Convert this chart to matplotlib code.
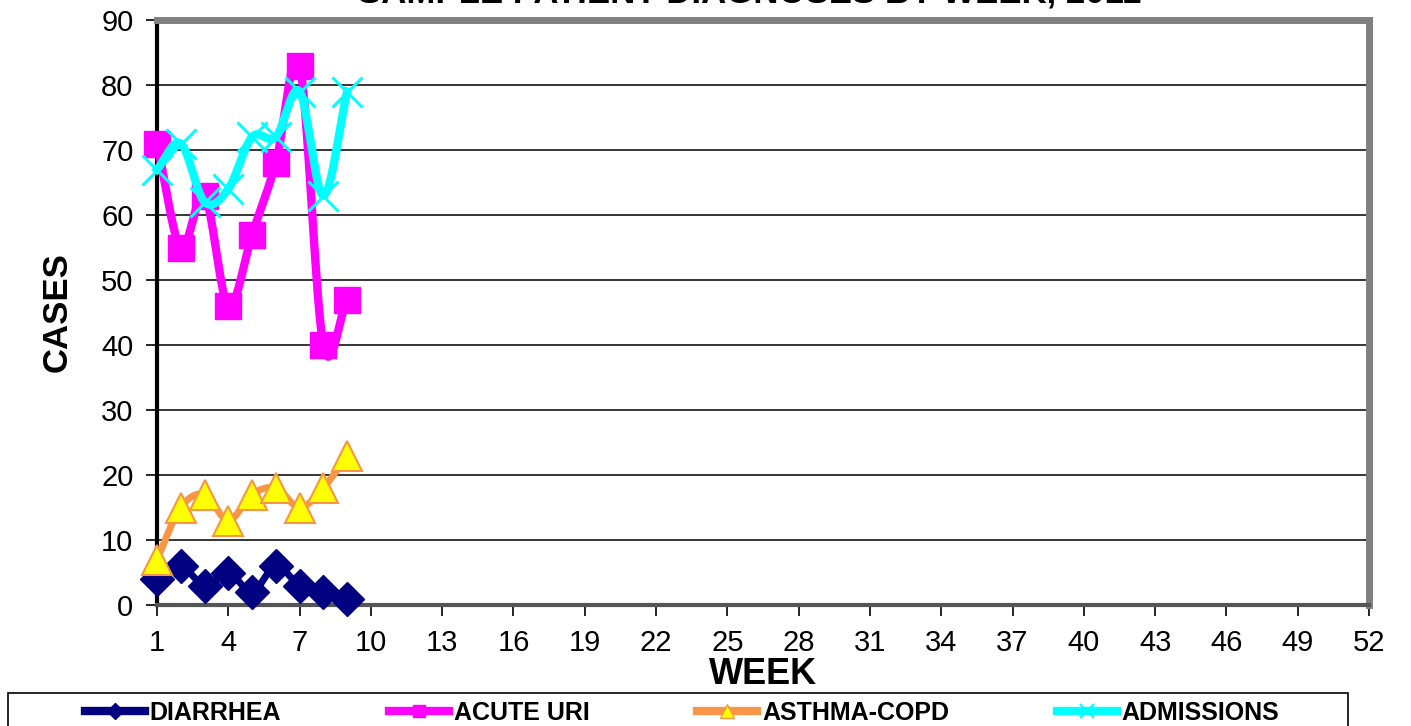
import numpy as np
import matplotlib
matplotlib.use("Agg")
import matplotlib.pyplot as plt
from matplotlib.lines import Line2D
from matplotlib.patches import Rectangle

weeks = [1, 2, 3, 4, 5, 6, 7, 8, 9]
diarrhea = [4, 6, 3, 5, 2, 6, 3, 2, 1]
acute_uri = [71, 55, 63, 46, 57, 68, 83, 40, 47]
asthma_copd = [7, 15, 17, 13, 17, 18, 15, 18, 23]
admissions = [67, 71, 62, 64, 72, 72, 79, 63, 79]
xticks = list(range(1, 53, 3))
yticks = list(range(0, 91, 10))
title = "SAMPLE PATIENT DIAGNOSES BY WEEK, 2011"

plt.rcParams['font.family'] = ['Liberation Sans', 'DejaVu Sans']


def smooth(x, y, n=20):
    x = np.asarray(x, float)
    y = np.asarray(y, float)
    px = np.concatenate([[2 * x[0] - x[1]], x, [2 * x[-1] - x[-2]]])
    py = np.concatenate([[2 * y[0] - y[1]], y, [2 * y[-1] - y[-2]]])
    ox, oy = [], []
    for i in range(1, len(px) - 2):
        t = np.linspace(0, 1, n, endpoint=False)
        for p, out in ((px, ox), (py, oy)):
            p0, p1, p2, p3 = p[i - 1], p[i], p[i + 1], p[i + 2]
            c1 = p1 + (p2 - p0) / 6
            c2 = p2 - (p3 - p1) / 6
            out.extend((1 - t) ** 3 * p1 + 3 * (1 - t) ** 2 * t * c1
                       + 3 * (1 - t) * t ** 2 * c2 + t ** 3 * p2)
    ox.append(x[-1]); oy.append(y[-1])
    return ox, oy


fig = plt.figure(figsize=(14.11, 7.26), dpi=100)
ax = fig.add_axes([157 / 1411, 1 - 605 / 726, (1369 - 157) / 1411, (605 - 20) / 726])

ax.set_xlim(1, 52)
ax.set_ylim(0, 90)
ax.set_yticks(yticks)
ax.set_xticks(xticks)
ax.tick_params(axis='both', labelsize=21, length=8, width=1.2, direction='out', color='black')
ax.tick_params(axis='x', pad=9)
ax.tick_params(axis='y', pad=9)
ax.grid(axis='y', color='black', linewidth=1.1)
ax.set_axisbelow(True)

for s in ['top', 'right']:
    ax.spines[s].set_color('#808080')
    ax.spines[s].set_linewidth(5)
ax.spines['left'].set_color('black')
ax.spines['left'].set_linewidth(3)
ax.spines['bottom'].set_color('#555555')
ax.spines['bottom'].set_linewidth(3)

# Diarrhea
ax.plot(*smooth(weeks, diarrhea), color='#000080', lw=5, zorder=3, clip_on=False)
ax.plot(weeks, diarrhea, ls='none', marker='D', ms=17, color='#000080', zorder=4, clip_on=False)
# Asthma-COPD
ax.plot(*smooth(weeks, asthma_copd), color='#F79646', lw=5, zorder=3, clip_on=False)
ax.plot(weeks, asthma_copd, ls='none', marker='^', ms=22, mfc='#FFFF00', mec='#F79646', mew=1.5,
        zorder=4, clip_on=False)
# Acute URI
ax.plot(*smooth(weeks, acute_uri), color='#FF00FF', lw=6, zorder=3, clip_on=False)
ax.plot(weeks, acute_uri, ls='none', marker='s', ms=19, color='#FF00FF', zorder=4, clip_on=False)
# Admissions
ax.plot(*smooth(weeks, admissions), color='#00FFFF', lw=6, zorder=5, clip_on=False)
ax.plot(weeks, admissions, ls='none', marker='x', ms=22, mew=2.2, color='#00FFFF', zorder=6,
        clip_on=False)

ax.set_ylabel('CASES', fontsize=25, fontweight='bold', labelpad=20)
ax.set_xlabel('WEEK', fontsize=26, fontweight='bold', labelpad=0)

fig.text(750 / 1411, 1 - 2 / 726, title, ha='center', va='baseline',
         fontsize=25, fontweight='bold')

# legend frame
fig.patches.append(Rectangle((8 / 1411, -0.05), 1340 / 1411, 0.05 + (726 - 693) / 726,
                             transform=fig.transFigure, fill=False, edgecolor='black',
                             linewidth=1.2))

handles = [
    Line2D([], [], color='#000080', lw=6, marker='D', ms=8),
    Line2D([], [], color='#FF00FF', lw=6, marker='s', ms=8),
    Line2D([], [], color='#F79646', lw=6, marker='^', ms=10, mfc='#FFFF00', mec='#F79646'),
    Line2D([], [], color='#00FFFF', lw=6, marker='x', ms=10, mew=1.5),
]
labels = ['DIARRHEA', 'ACUTE URI', 'ASTHMA-COPD', 'ADMISSIONS']
leg_top = 1 - 693 / 726
leg = fig.legend(handles, labels, loc='upper center', ncol=4,
                 bbox_to_anchor=(682 / 1411, leg_top),
                 prop={'weight': 'bold', 'size': 18},
                 frameon=False, handlelength=2.4, handletextpad=0.2, borderpad=0.3,
                 columnspacing=4.3, borderaxespad=0)

fig.savefig('out.png', dpi=100)
